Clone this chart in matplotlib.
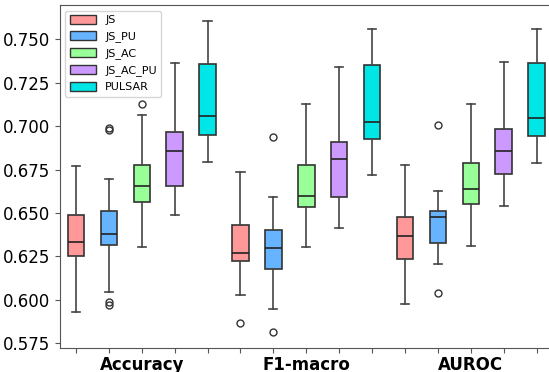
import numpy as np
import matplotlib
matplotlib.use("Agg")
import matplotlib.pyplot as plt
from matplotlib.patches import Patch

metrics = ["Accuracy", "F1-macro", "AUROC"]
methods = ["JS", "JS_PU", "JS_AC", "JS_AC_PU", "PULSAR"]
colors = ["#ff9999", "#66b3ff", "#99ff99", "#cc99ff", "#00e5e5"]

# [whislo, q1, median, q3, whishi] per metric, per method
acc = [
    [0.5928, 0.6253, 0.6335, 0.6488, 0.6770],
    [0.6048, 0.6318, 0.6381, 0.6509, 0.6697],
    [0.6307, 0.6565, 0.6658, 0.6777, 0.7066],
    [0.6488, 0.6653, 0.6855, 0.6968, 0.7362],
    [0.6792, 0.6949, 0.7060, 0.7357, 0.7605],
]
f1 = [
    [0.6027, 0.6221, 0.6272, 0.6431, 0.6737],
    [0.5949, 0.6175, 0.6297, 0.6404, 0.6594],
    [0.6307, 0.6536, 0.6599, 0.6777, 0.7129],
    [0.6413, 0.6591, 0.6808, 0.6911, 0.7339],
    [0.6717, 0.6926, 0.7024, 0.7349, 0.7559],
]
auroc = [
    [0.5976, 0.6234, 0.6366, 0.6479, 0.6779],
    [0.6207, 0.6326, 0.6479, 0.6513, 0.6626],
    [0.6310, 0.6549, 0.6639, 0.6786, 0.7129],
    [0.6542, 0.6725, 0.6857, 0.6984, 0.7368],
    [0.6789, 0.6941, 0.7047, 0.7362, 0.7559],
]
acc_out = [[], [0.699, 0.698, 0.599, 0.597], [0.7129], [], []]
f1_out = [[0.5865], [0.6939, 0.5815], [], [], []]
auroc_out = [[], [0.7008, 0.6037], [], [], []]

all_stats = [acc, f1, auroc]
all_out = [acc_out, f1_out, auroc_out]

fig = plt.figure(figsize=(5.49, 3.72), dpi=100)
ax = fig.add_axes([0.1084, 0.0645, 0.899, 0.922])

stats = []
box_colors = []
for m in range(3):
    for k in range(5):
        lo, q1, med, q3, hi = all_stats[m][k]
        stats.append(dict(whislo=lo, q1=q1, med=med, q3=q3, whishi=hi,
                          fliers=all_out[m][k]))
        box_colors.append(colors[k])

pos = np.arange(1, 16)
bp = ax.bxp(stats, positions=pos, widths=0.5, patch_artist=True,
            boxprops=dict(edgecolor="#333333", linewidth=1.2),
            whiskerprops=dict(color="#444444", linewidth=1.2),
            capprops=dict(color="#444444", linewidth=1.2),
            medianprops=dict(color="#222222", linewidth=1.2),
            flierprops=dict(marker="o", markerfacecolor="none",
                            markeredgecolor="#333333", markersize=5))
for patch, c in zip(bp["boxes"], box_colors):
    patch.set_facecolor(c)

ax.set_xlim(0.5, 15.5)
ax.set_ylim(0.5723, 0.7697)
ax.set_yticks([0.575, 0.600, 0.625, 0.650, 0.675, 0.700, 0.725, 0.750])
ax.set_yticklabels(["%.3f" % v for v in ax.get_yticks()], fontsize=12)
labels = [""] * 15
labels[2], labels[7], labels[12] = metrics
ax.set_xticks(pos)
ax.set_xticklabels(labels, fontsize=12, fontweight="bold")
ax.tick_params(axis="both", colors="#555555", labelcolor="black")
ax.tick_params(axis="x", pad=2.5)

for s in ax.spines.values():
    s.set_color("#555555")

handles = [Patch(facecolor=c, edgecolor="#333333", label=l) for c, l in zip(colors, methods)]
ax.legend(handles=handles, loc="upper left", fontsize=8, framealpha=0.8,
          handlelength=2.4, handleheight=0.9)

fig.savefig("out.png", dpi=100)
